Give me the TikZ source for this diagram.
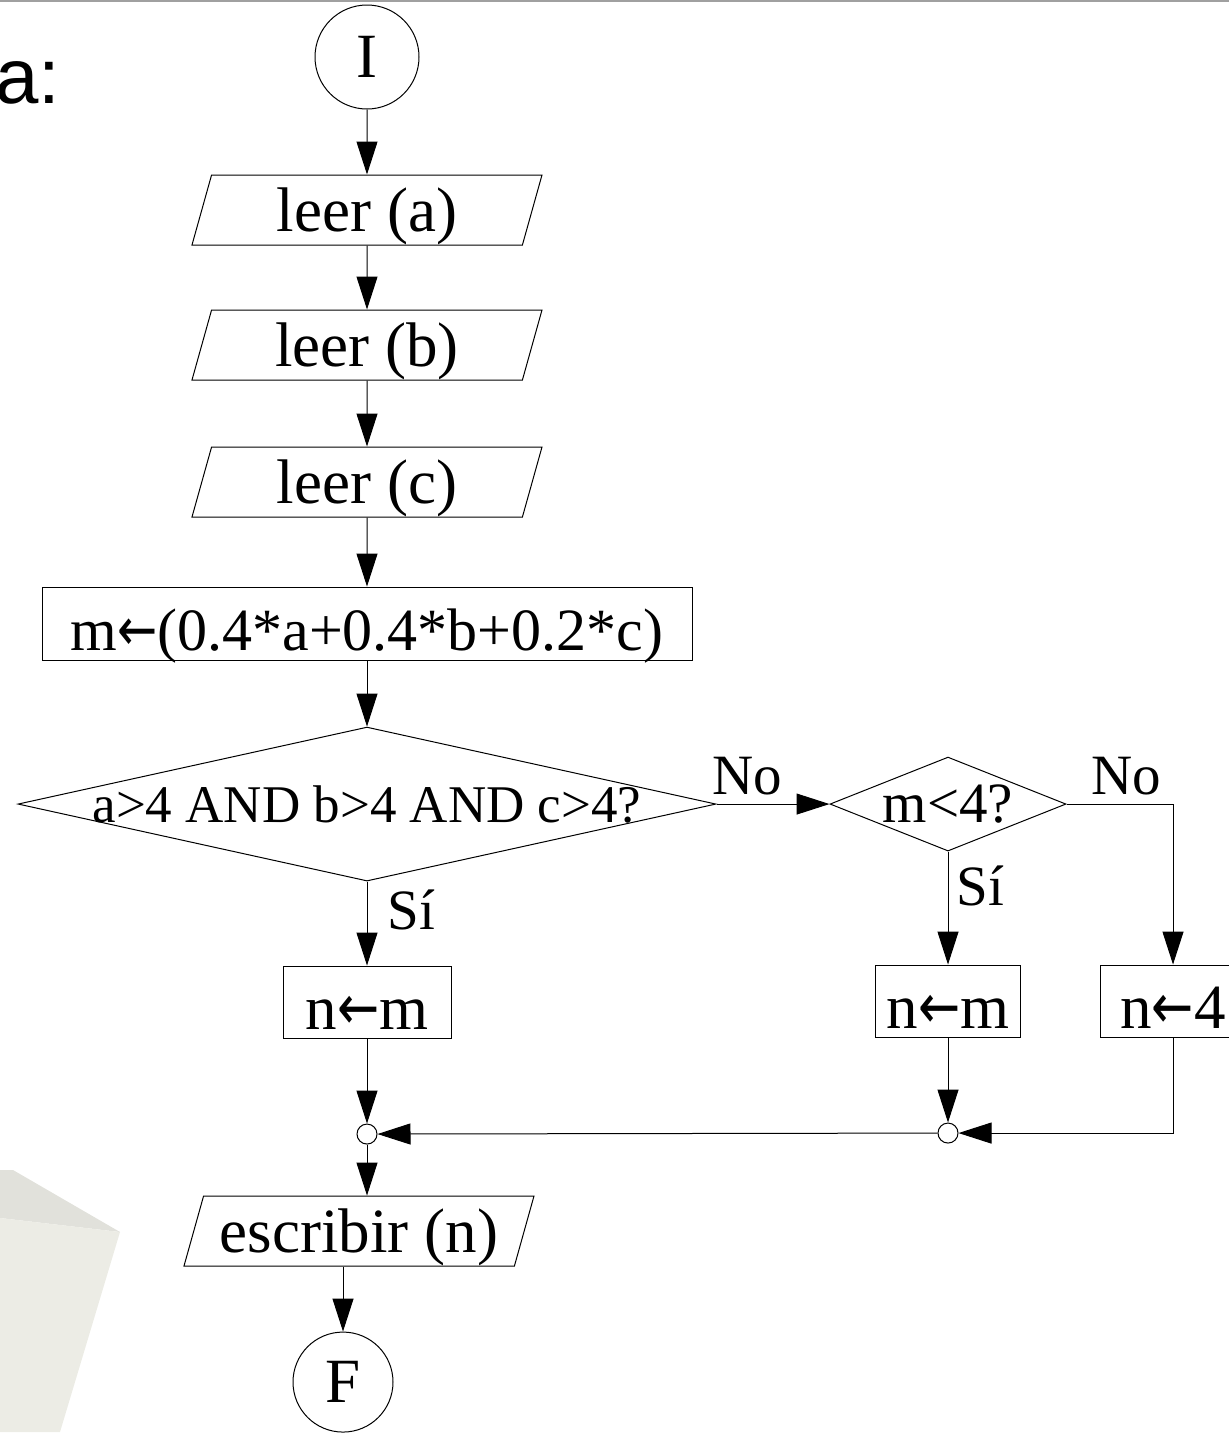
\documentclass[tikz,border=0pt]{standalone}
\usepackage{graphicx}
\usepackage{fontspec}
\setmainfont{Liberation Serif}
\newfontfamily\slidefont{Liberation Sans}
\newfontfamily\flechafont{DejaVu Sans}
\newcommand{\flecha}{{\flechafont\scalebox{0.8}[1]{←}}}
\usetikzlibrary{positioning, arrows.meta, shapes.geometric}

\definecolor{fondoosc}{RGB}{225,225,219}
\definecolor{fondoclaro}{RGB}{236,236,229}
\definecolor{regla}{RGB}{160,160,160}

\begin{document}
\begin{tikzpicture}[
  x=1pt, y=-1pt,
  line width=1pt,
  font=\fontsize{63}{70}\selectfont,
  terminal/.style={draw, circle, inner sep=0pt},
  entrada/.style={draw, trapezium, trapezium left angle=65, trapezium right angle=115, trapezium stretches body, minimum width=350pt, minimum height=70pt, inner sep=0pt, text height=42pt, text depth=0pt},
  proceso/.style={draw, rectangle, minimum height=72pt, inner sep=4pt, text height=54pt, text depth=0pt},
  decision/.style={draw, diamond, inner sep=0pt},
  union/.style={draw, circle, minimum size=20pt, inner sep=0pt},
  etiq/.style={font=\fontsize{57}{64}\selectfont, inner sep=0pt, anchor=base west},
  arr/.style={-{Triangle[length=33pt, width=21pt]}}
]
\useasboundingbox (0,0) rectangle (1229,1438);
% fondo de la diapositiva
\fill[fondoosc] (0,1170) -- (13,1170) -- (120,1232) -- (0,1218) -- cycle;
\fill[fondoclaro] (0,1218) -- (120,1232) -- (60,1432) -- (0,1432) -- cycle;
\draw[regla, line width=2pt] (0,1) -- (1229,1);
\node[font=\slidefont\fontsize{78}{80}\selectfont, anchor=base east, inner sep=0pt] (tema) at (61,103) {a:};

\node[terminal, minimum size=104pt] (ini) at (367,57) {I};
\node[entrada, below=65pt of ini] (lera) {leer (a)};
\node[entrada, below=64pt of lera] (lerb) {leer (b)};
\node[entrada, below=66pt of lerb] (lerc) {leer (c)};
\node[proceso, minimum width=650pt, minimum height=73pt, below=69pt of lerc, font=\fontsize{60}{66}\selectfont] (prom) {m\flecha(0.4*a+0.4*b+0.2*c)};
\node[decision, minimum width=698pt, minimum height=154pt, below=66pt of prom, font=\fontsize{53}{60}\selectfont] (cond) {\makebox[0pt]{a>4 AND b>4 AND c>4?}};
\node[decision, minimum width=236pt, minimum height=94pt, right=113pt of cond, font=\fontsize{57}{64}\selectfont] (cond2) {\makebox[0pt]{m<4?}};
\node[proceso, minimum width=168pt, below=84pt of cond] (asig1) {n\flecha m};
\node[proceso, minimum width=145pt, below=113pt of cond2] (asig2) {n\flecha m};
\node[proceso, minimum width=145pt, right=79pt of asig2] (asig3) {n\flecha 4};
\node[union, below=85pt of asig1] (junta1) {};
\node[union, below=85pt of asig2] (junta2) {};
\node[entrada, below=51pt of junta1, xshift=-8pt] (escr) {escribir (n)};
\node[terminal, minimum size=100pt, below=65pt of escr, xshift=-16pt] (fin) {F};

\draw[arr] (ini) -- (lera);
\draw[arr] (lera) -- (lerb);
\draw[arr] (lerb) -- (lerc);
\draw[arr] (lerc) -- (prom);
\draw[arr] (prom) -- (cond);
\draw[arr] (cond) -- node[etiq, pos=0.565, xshift=20pt] {Sí} (asig1);
\draw[arr] (cond) -- node[etiq, anchor=base, pos=0.27, yshift=10pt] {No} (cond2);
\draw[arr] (cond2) -- node[etiq, pos=0.48, xshift=8pt] {Sí} (asig2);
\draw[arr] (cond2) -| node[etiq, anchor=base, pos=0.28, yshift=10pt] {No} (asig3);
\draw[arr] (asig1) -- (junta1);
\draw[arr] (asig2) -- (junta2);
\draw[arr] (asig3) |- (junta2);
\draw[arr] (junta2) -- (junta1);
\draw[arr] (junta1) -- (junta1 |- escr.north);
\draw[arr] (fin |- escr.south) -- (fin);
\end{tikzpicture}
\end{document}
